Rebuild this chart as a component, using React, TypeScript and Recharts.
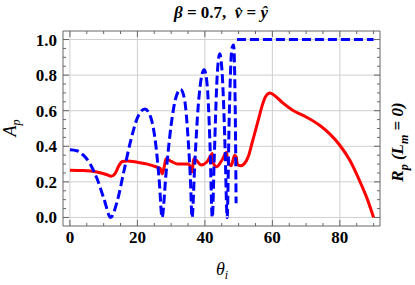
import React from "react";
import { LineChart, Line, XAxis, YAxis, ReferenceLine } from "recharts";

// angle of incidence (deg) vs A_p
const blueTheta = [
  0, 2, 4, 6, 8, 10, 12.1, 14, 16, 18, 20, 22.2, 24, 25.5, 26.5, 27.3, 28.5, 30,
  31.5, 32.8, 34, 35, 35.7, 36.2, 37, 38, 39, 39.8, 40.7, 41.5, 42.2, 42.8, 43.6,
  44.4, 45.3, 46, 46.6, 47.2, 48.0, 48.5, 49.0, 49.25, 49.35, 49.5, 60, 70, 80, 90,
];
const blueValues = [
  0.38, 0.375, 0.35, 0.3, 0.22, 0.11, 0.0, 0.09, 0.26, 0.43, 0.56, 0.61, 0.56, 0.4,
  0.2, 0.0, 0.25, 0.52, 0.68, 0.72, 0.66, 0.45, 0.22, 0.0, 0.3, 0.62, 0.79, 0.83,
  0.74, 0.42, 0.0, 0.35, 0.78, 0.92, 0.75, 0.38, 0.0, 0.55, 0.95, 0.97, 0.6, 0.08,
  null, 1.0, 1.0, 1.0, 1.0, 1.0,
];

// R_p (L_m = 0)
const redTheta = [
  0, 4, 8, 11, 12.2, 13.5, 14.5, 15.5, 17, 20, 23, 25.5, 26.8, 27.4, 28.0, 28.5,
  30, 32, 33.5, 35, 35.8, 36.2, 36.7, 37.5, 38.9, 40.5, 41.8, 42.2, 42.4, 43.5, 45,
  46.4, 46.7, 47.8, 48.8, 49.3, 49.6, 50.5, 51.8, 53, 54, 55, 56, 57, 58, 59.3, 61,
  63, 66, 70, 74, 77, 80, 83, 86, 88, 90,
];
const redValues = [
  0.266, 0.264, 0.255, 0.24, 0.232, 0.25, 0.29, 0.315, 0.318, 0.31, 0.3, 0.285,
  0.275, 0.245, 0.29, 0.33, 0.315, 0.3, 0.3, 0.3, 0.28, 0.256, 0.33, 0.32, 0.295,
  0.31, 0.35, 0.36, 0.31, 0.285, 0.32, 0.365, 0.33, 0.29, 0.35, 0.34, 0.3, 0.29,
  0.305, 0.35, 0.42, 0.49, 0.56, 0.63, 0.68, 0.7, 0.68, 0.645, 0.603, 0.565, 0.518,
  0.47, 0.406, 0.32, 0.2, 0.11, 0.0,
];

const xTicks = [0, 5, 10, 15, 20, 25, 30, 35, 40, 45, 50, 55, 60, 65, 70, 75, 80, 85, 90];
const xLabels = [0, 20, 40, 60, 80];
const yTicks = [
  0, 0.05, 0.1, 0.15, 0.2, 0.25, 0.3, 0.35, 0.4, 0.45, 0.5, 0.55, 0.6, 0.65, 0.7,
  0.75, 0.8, 0.85, 0.9, 0.95, 1.0,
];
const yLabels = [0, 0.2, 0.4, 0.6, 0.8, 1.0];

const blueData = blueTheta.map((t, i) => ({ t, a: blueValues[i] }));
const redData = redTheta.map((t, i) => ({ t, r: redValues[i] }));

const X_DOMAIN: [number, number] = [-2.05, 91.9];
const Y_DOMAIN: [number, number] = [-0.048, 1.048];
const FRAME = "#666";
const GRID = "#cfcfcf";
const FONT = "'Liberation Serif', 'Times New Roman', serif";

if (typeof document !== "undefined") document.body.style.margin = "0";

const isMajorX = (v: number) => v % 20 === 0;
const isMajorY = (v: number) => Math.abs(v * 5 - Math.round(v * 5)) < 1e-6;

const BottomTick = ({ x, y, payload }: any) => {
  const major = isMajorX(payload.value);
  return (
    <g>
      <line x1={x} x2={x} y1={y} y2={y - (major ? 6 : 3)} stroke={FRAME} />
      {major && (
        <text x={x} y={y + 17} textAnchor="middle" fontFamily={FONT} fontWeight="bold" fontSize={17} fill="#000">
          {payload.value}
        </text>
      )}
    </g>
  );
};

const TopTick = ({ x, y, payload }: any) => {
  const major = isMajorX(payload.value);
  return <line x1={x} x2={x} y1={y} y2={y + (major ? 6 : 3)} stroke={FRAME} />;
};

const LeftTick = ({ x, y, payload }: any) => {
  const major = isMajorY(payload.value);
  return (
    <g>
      <line x1={x} x2={x + (major ? 6 : 3)} y1={y} y2={y} stroke={FRAME} />
      {major && (
        <text x={x - 6} y={y + 6} textAnchor="end" fontFamily={FONT} fontWeight="bold" fontSize={17} fill="#000">
          {payload.value.toFixed(1)}
        </text>
      )}
    </g>
  );
};

const RightTick = ({ x, y, payload }: any) => {
  const major = isMajorY(payload.value);
  return <line x1={x} x2={x - (major ? 6 : 3)} y1={y} y2={y} stroke={FRAME} />;
};

export default function App() {
  return (
    <div style={{ position: "relative", width: 415, height: 285, background: "#fff", fontFamily: FONT }}>
      <LineChart width={415} height={285} margin={{ top: 0, right: 0, bottom: 0, left: 0 }}>
        <XAxis
          dataKey="t"
          type="number"
          domain={X_DOMAIN}
          allowDataOverflow
          ticks={xTicks}
          interval={0}
          height={59}
          tickSize={0}
          tickMargin={0}
          tickLine={false}
          axisLine={{ stroke: FRAME }}
          tick={<BottomTick />}
        />
        <XAxis
          xAxisId="top"
          orientation="top"
          dataKey="t"
          type="number"
          domain={X_DOMAIN}
          allowDataOverflow
          ticks={xTicks}
          interval={0}
          height={31}
          tickSize={0}
          tickMargin={0}
          tickLine={false}
          axisLine={{ stroke: FRAME }}
          tick={<TopTick />}
        />
        <YAxis
          type="number"
          domain={Y_DOMAIN}
          allowDataOverflow
          ticks={yTicks}
          interval={0}
          width={63}
          tickSize={0}
          tickMargin={0}
          tickLine={false}
          axisLine={{ stroke: FRAME }}
          tick={<LeftTick />}
        />
        <YAxis
          yAxisId="right"
          orientation="right"
          type="number"
          domain={Y_DOMAIN}
          allowDataOverflow
          ticks={yTicks}
          interval={0}
          width={35}
          tickSize={0}
          tickMargin={0}
          tickLine={false}
          axisLine={{ stroke: FRAME }}
          tick={<RightTick />}
        />
        {xLabels.map((v) => (
          <ReferenceLine key={"gx" + v} x={v} stroke={GRID} strokeWidth={1} />
        ))}
        {yLabels.map((v) => (
          <ReferenceLine key={"gy" + v} y={v} stroke={GRID} strokeWidth={1} />
        ))}
        <Line
          data={redData}
          dataKey="r"
          type="monotone"
          stroke="#ff0000"
          strokeWidth={3}
          dot={false}
          isAnimationActive={false}
        />
        <Line
          data={blueData}
          dataKey="a"
          type="monotone"
          stroke="#0000ff"
          strokeWidth={3}
          strokeDasharray="9 4"
          dot={false}
          isAnimationActive={false}
        />
      </LineChart>

      <div
        style={{
          position: "absolute",
          left: 121,
          width: 200,
          top: 3,
          textAlign: "center",
          fontSize: 17,
          fontWeight: "bold",
          lineHeight: "20px",
          whiteSpace: "nowrap",
        }}
      >
        <i>β</i> = 0.7,&nbsp; <i>v&#x0302;</i> = <i>ŷ</i>
      </div>

      <div
        style={{
          position: "absolute",
          left: 12,
          top: 128,
          transform: "translate(-50%, -50%) rotate(-90deg)",
          fontSize: 18,
          fontStyle: "italic",
          whiteSpace: "nowrap",
        }}
      >
        A<sub style={{ fontSize: 12 }}>p</sub>
      </div>

      <div
        style={{
          position: "absolute",
          left: 222,
          top: 271,
          transform: "translate(-50%, -50%)",
          fontSize: 18,
          fontStyle: "italic",
          whiteSpace: "nowrap",
        }}
      >
        θ<sub style={{ fontSize: 12 }}>i</sub>
      </div>

      <div
        style={{
          position: "absolute",
          left: 400,
          top: 142,
          transform: "translate(-50%, -50%) rotate(-90deg)",
          fontSize: 17,
          fontStyle: "italic",
          fontWeight: "bold",
          whiteSpace: "nowrap",
        }}
      >
        R<sub style={{ fontSize: 12 }}>p</sub> (L<sub style={{ fontSize: 12 }}>m</sub> = 0)
      </div>
    </div>
  );
}
